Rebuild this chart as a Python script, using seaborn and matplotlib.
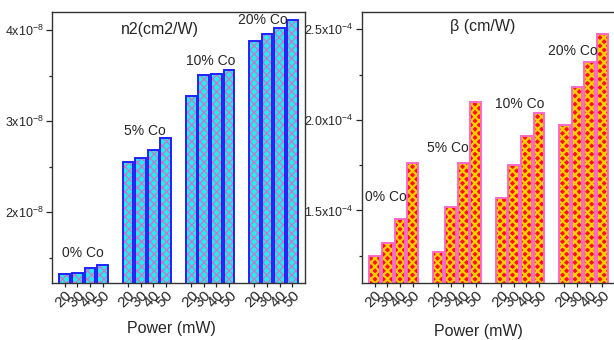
import numpy as np
import pandas as pd
import matplotlib
matplotlib.use("Agg")
import matplotlib.pyplot as plt
from matplotlib.ticker import FixedLocator, MultipleLocator, FuncFormatter
import seaborn as sns

# ---------------- data ----------------
concentrations = ["0% Co", "5% Co", "10% Co", "20% Co"]
powers = [20, 30, 40, 50]
n2_values = [  # x 1e-8 cm2/W
    [1.32, 1.33, 1.385, 1.42],
    [2.546, 2.60, 2.68, 2.81],
    [3.275, 3.51, 3.52, 3.56],
    [3.876, 3.96, 4.02, 4.11],
]
beta_values = [  # x 1e-4 cm/W
    [1.25, 1.322, 1.453, 1.761],
    [1.272, 1.522, 1.761, 2.101],
    [1.570, 1.752, 1.912, 2.040],
    [1.972, 2.180, 2.321, 2.474],
]
n2_ticks = [2, 3, 4]
beta_ticks = [1.5, 2.0, 2.5]

sns.set_style("ticks")
plt.rcParams["font.family"] = ["Liberation Sans", "DejaVu Sans"]
plt.rcParams["mathtext.fontset"] = "custom"
plt.rcParams["mathtext.rm"] = "Liberation Sans"
plt.rcParams["mathtext.it"] = "Liberation Sans:italic"
plt.rcParams["mathtext.bf"] = "Liberation Sans:bold"


def make_df(values, scale):
    rows = []
    for g, conc in enumerate(concentrations):
        for i, p in enumerate(powers):
            rows.append({"conc": conc, "power": p, "pos": g * 5 + i,
                         "value": values[g][i] * scale})
    return pd.DataFrame(rows)


df_n2 = make_df(n2_values, 1e-8)
df_beta = make_df(beta_values, 1e-4)

fig = plt.figure(figsize=(6.14, 3.4), dpi=100)
axL = fig.add_axes([52 / 614, 57 / 340, 253 / 614, 271 / 340])
axR = fig.add_axes([362 / 614, 57 / 340, 253 / 614, 271 / 340])


def draw(ax, df, face, hatchc, edge, hatch_lw):
    with plt.rc_context({"hatch.linewidth": hatch_lw}):
        sns.barplot(data=df, x="pos", y="value", native_scale=True, width=0.85,
                    color=face, saturation=1, errorbar=None, ax=ax,
                    hatch="xxxx", edgecolor=hatchc, linewidth=0)
    sns.barplot(data=df, x="pos", y="value", native_scale=True, width=0.85,
                color=edge, saturation=1, errorbar=None, ax=ax, fill=False,
                linewidth=1.4)


draw(axL, df_n2, "#22EEEE", "#D070C8", "#2020FF", 0.9)
draw(axR, df_beta, "#FF1010", "#FFD000", "#FF66CC", 1.6)


def style(ax, df, ylim, ticks, scale, exp, fmt, minor):
    ax.set_xlim(-1, 19)
    ax.set_ylim(*ylim)
    ax.xaxis.set_major_locator(FixedLocator(df["pos"].tolist()))
    ax.set_xticklabels([str(p) for p in df["power"]], rotation=45,
                       ha="right", rotation_mode="anchor", fontsize=11)
    ax.yaxis.set_major_locator(FixedLocator([t * scale for t in ticks]))
    ax.yaxis.set_minor_locator(MultipleLocator(minor * scale))
    ax.yaxis.set_major_formatter(FuncFormatter(
        lambda v, _: r"$" + (fmt % (v / scale)) + r"\mathrm{x}10^{" + exp + "}$"))
    ax.tick_params(axis="y", which="major", length=4, width=0.9, labelsize=9, pad=2)
    ax.tick_params(axis="y", which="minor", length=2.5, width=0.9)
    ax.tick_params(axis="x", length=3, width=0.9, pad=1)
    for s in ax.spines.values():
        s.set_visible(True)
        s.set_color("#333333")
        s.set_linewidth(1.0)
    ax.set_ylabel("")
    ax.set_xlabel("Power (mW)", fontsize=11.5, va="top")


style(axL, df_n2, (1.22e-8, 4.2e-8), n2_ticks, 1e-8, "-8", "%d", 0.5)
style(axR, df_beta, (1.10e-4, 2.595e-4), beta_ticks, 1e-4, "-4", "%.1f", 0.25)
axL.xaxis.set_label_coords(0.474, -0.140)
axR.xaxis.set_label_coords(0.462, -0.150)

# titles inside axes
axL.text(0.427, 0.934, "n2(cm2/W)", transform=axL.transAxes, ha="center",
         va="center", fontsize=11.5)
axR.text(0.478, 0.945, "β (cm/W)", transform=axR.transAxes, ha="center",
         va="center", fontsize=11.5)

left_lbl = [(0.123, 0.111), (0.368, 0.561), (0.628, 0.819), (0.834, 0.970)]
right_lbl = [(0.095, 0.317), (0.340, 0.498), (0.625, 0.661), (0.834, 0.856)]
for conc, (x, y) in zip(concentrations, left_lbl):
    axL.text(x, y, conc, transform=axL.transAxes, ha="center", va="center",
             fontsize=10)
for conc, (x, y) in zip(concentrations, right_lbl):
    axR.text(x, y, conc, transform=axR.transAxes, ha="center", va="center",
             fontsize=10)

fig.savefig("out.png", dpi=100)
